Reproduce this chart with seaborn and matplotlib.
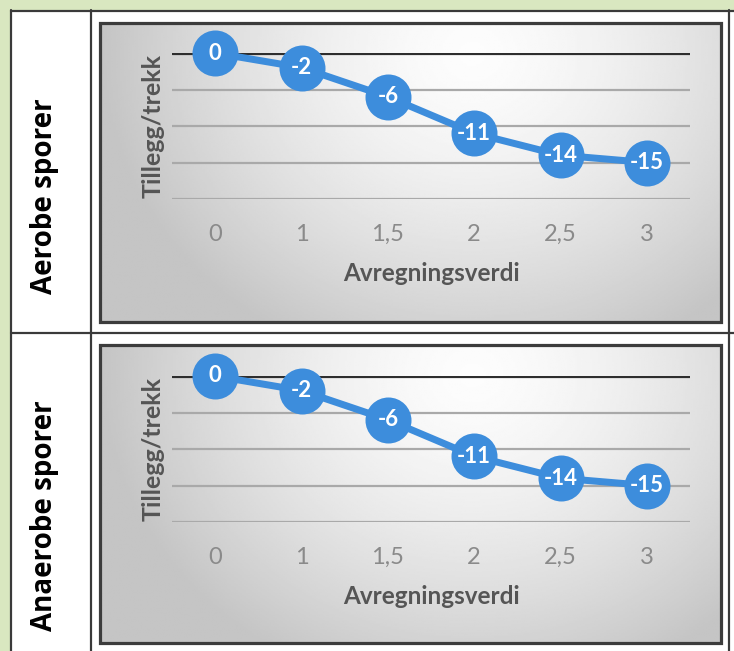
import numpy as np
import pandas as pd
import matplotlib
matplotlib.use("Agg")
import matplotlib.pyplot as plt
import seaborn as sns
from matplotlib.patches import Rectangle
from matplotlib.lines import Line2D

# ---- data ----
categories = ["0", "1", "1,5", "2", "2,5", "3"]
aerobe_values = [0, -2, -6, -11, -14, -15]
anaerobe_values = [0, -2, -6, -11, -14, -15]
row_titles = ["Aerobe sporer", "Anaerobe sporer"]
x_title = "Avregningsverdi"
y_title = "Tillegg/trekk"
y_ticks = [-20, -15, -10, -5, 0]

W, H = 734, 651
DPI = 100
sns.set_theme(style="white")
plt.rcParams['font.family'] = ['Lato', 'DejaVu Sans']

BLUE = "#3d8ddc"

fig = plt.figure(figsize=(W / DPI, H / DPI), dpi=DPI, facecolor="#d9e7c0")


def fx(px):
    return px / W


def fy(py):
    return 1 - py / H


def pt(px):
    return px * 72 / DPI


# white table body
fig.patches.append(Rectangle((fx(11), 0), 1 - fx(11), fy(10), transform=fig.transFigure,
                             facecolor="white", edgecolor="none", zorder=-5))
# table lines
line_kw = dict(transform=fig.transFigure, color="#3a3a3a", lw=pt(2.2), zorder=-4)
fig.lines.append(Line2D([fx(11), fx(734)], [fy(10.5), fy(10.5)], **line_kw))
fig.lines.append(Line2D([fx(11), fx(734)], [fy(333), fy(333)], **line_kw))
fig.lines.append(Line2D([fx(11), fx(11)], [0, fy(10)], **line_kw))
fig.lines.append(Line2D([fx(91), fx(91)], [0, fy(10)], **line_kw))
fig.lines.append(Line2D([fx(729), fx(729)], [0, fy(10)], **line_kw))

# gradient image
gx, gy = np.meshgrid(np.linspace(0, 1, 300), np.linspace(0, 1, 200))
d = np.sqrt(((gx - 0.6) / 0.6) ** 2 + ((gy - 0.1) / 1.1) ** 2)
grad = 0.99 - 0.22 * np.clip(d, 0, 1) ** 1.5


def draw_chart(box_top, box_bottom, zero_y, values, title, title_y):
    # background box
    bg = fig.add_axes([fx(100), fy(box_bottom), (721 - 100) / W, (box_bottom - box_top) / H])
    bg.imshow(grad, cmap="gray", vmin=0, vmax=1, aspect="auto", extent=[0, 1, 0, 1],
              origin="upper")
    bg.set_xlim(0, 1)
    bg.set_ylim(0, 1)
    bg.axis("off")
    bg.add_patch(Rectangle((0, 0), 1, 1, transform=bg.transAxes, fill=False,
                           edgecolor="#3c3c3c", lw=pt(3.2), clip_on=False))

    # plot area
    ax = fig.add_axes([fx(172), fy(zero_y + 146), (690 - 172) / W, 146 / H])
    ax.set_facecolor("none")
    df = pd.DataFrame({"x": categories, "y": values})
    sns.lineplot(data=df, x="x", y="y", ax=ax, sort=False, color=BLUE, lw=pt(7),
                 marker="o", markersize=pt(46), markeredgewidth=0, zorder=3)
    for ln in ax.lines:
        ln.set_clip_on(False)
    for i, v in enumerate(values):
        ax.text(i, v, str(v), ha="center", va="center", color="white", fontsize=16,
                fontweight="bold", zorder=4)
    ax.set_xlim(-0.5, len(categories) - 0.5)
    ax.set_ylim(-20, 0)
    ax.set_yticks(y_ticks)
    ax.yaxis.grid(True, color="#a9a9a9", lw=pt(2.2))
    ax.xaxis.grid(False)
    ax.set_axisbelow(True)
    ax.axhline(0, color="#2e2e2e", lw=pt(3.2), zorder=2)
    for s in ax.spines.values():
        s.set_visible(False)
    ax.tick_params(axis="y", left=False, labelleft=False)
    ax.tick_params(axis="x", bottom=False, pad=12, labelsize=17, labelcolor="#8a8a8a")
    ax.set_xlabel(x_title, fontsize=17.5, fontweight="bold", color="#555555", labelpad=12)
    ax.set_ylabel(y_title, fontsize=18, fontweight="bold", color="#555555", labelpad=5)

    fig.text(fx(45), fy(title_y), title, rotation=90, ha="center", va="center",
             fontsize=20, fontweight="bold", color="black", family=["Open Sans", "DejaVu Sans"])


draw_chart(23, 322, 53, aerobe_values, row_titles[0], 196)
draw_chart(345, 643, 376, anaerobe_values, row_titles[1], 516)

fig.savefig("out.png", dpi=DPI, facecolor=fig.get_facecolor())
